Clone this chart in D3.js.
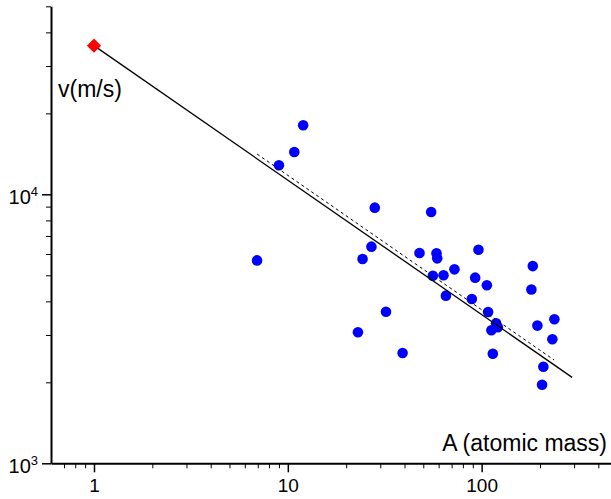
<!DOCTYPE html>
<html>
<head>
<meta charset="utf-8">
<script src="https://cdn.jsdelivr.net/npm/d3@7"></script>
<style>
  html, body { margin: 0; padding: 0; background: #fff; }
  svg { display: block; font-family: "Liberation Sans", Arial, sans-serif; }
  .axis path, .axis line { stroke: #000; }
</style>
</head>
<body>
<svg id="chart" width="611" height="499"></svg>
<script>
// atomic mass A vs sound speed v (m/s)
const massA = [12.0, 10.8, 9.0, 6.94, 28.1, 54.9, 27.0, 24.3, 47.8, 58.5, 59.0, 56.0,
  32.1, 23.0, 39.1, 96.3, 183.6, 72.4, 63.6, 92.6, 106.4, 180.6, 65.4, 89.0, 108.0,
  118.8, 121.2, 112.3, 114.2, 193.9, 237.3, 231.7, 208.2, 205.0];
const speedV = [18050, 14370, 12820, 5680, 8920, 8590, 6390, 5750, 6050, 6035, 5780, 4980,
  3660, 3070, 2570, 6220, 5410, 5260, 5000, 4900, 4590, 4430, 4200, 4080, 3650,
  3315, 3205, 3125, 2555, 3250, 3430, 2890, 2285, 1960];

// reference point (hydrogen) and the two power-law lines
const refPoint = { A: 1, v: 35700 };
const fitSolid = [{ A: 1, v: 35700 }, { A: 293, v: 2086 }];
const fitDashed = [{ A: 6.94, v: 14120 }, { A: 236.5, v: 2421 }];

const xMajor = [1, 10, 100];
const xMinor = [0.7, 0.8, 0.9, 2, 3, 4, 5, 6, 7, 8, 9, 20, 30, 40, 50, 60, 70, 80, 90, 200, 300, 400];
const yMajor = [1000, 10000];
const yMinor = [2000, 3000, 4000, 5000, 6000, 7000, 8000, 9000, 20000, 30000, 40000, 50000];

const svg = d3.select("#chart");

const x = d3.scaleLog().domain([0.6, 465]).range([51, 611]);
const y = d3.scaleLog().domain([1000, 50000]).range([463.3, 6.3]);

const points = massA.map((a, i) => ({ A: a, v: speedV[i] }));

// dots
svg.append("g")
  .selectAll("circle")
  .data(points)
  .enter()
  .append("circle")
  .attr("cx", d => x(d.A))
  .attr("cy", d => y(d.v))
  .attr("r", 5.3)
  .attr("fill", "#0000ff");

const line = d3.line().x(d => x(d.A)).y(d => y(d.v));

svg.append("path")
  .datum(fitSolid)
  .attr("d", line)
  .attr("fill", "none")
  .attr("stroke", "#000")
  .attr("stroke-width", 1.3);

svg.append("path")
  .datum(fitDashed)
  .attr("d", line)
  .attr("fill", "none")
  .attr("stroke", "#000")
  .attr("stroke-width", 1)
  .attr("stroke-dasharray", "3,3");

// red diamond
svg.append("rect")
  .attr("x", -5)
  .attr("y", -5)
  .attr("width", 10)
  .attr("height", 10)
  .attr("fill", "#ff0000")
  .attr("transform", `translate(${x(refPoint.A)},${y(refPoint.v)}) rotate(45)`);

// x axis
const xg = svg.append("g").attr("class", "axis").attr("transform", "translate(0,463.3)");
xg.append("g")
  .call(d3.axisBottom(x).tickValues(xMinor).tickSize(5).tickSizeOuter(0).tickFormat(""))
  .call(g => g.select(".domain").remove());
xg.append("g")
  .call(d3.axisBottom(x).tickValues(xMajor).tickSize(9).tickSizeOuter(0).tickPadding(6)
    .tickFormat(d3.format("d")))
  .call(g => g.select(".domain").attr("stroke-width", 2))
  .call(g => g.selectAll(".tick line").attr("stroke-width", 1.5))
  .call(g => g.selectAll(".tick text")
    .attr("fill", "#000")
    .style("font-size", "19px")
    .style("font-family", "'Liberation Sans', Arial, sans-serif"));

// y axis
const yg = svg.append("g").attr("class", "axis").attr("transform", "translate(51,0)");
yg.append("g")
  .call(d3.axisLeft(y).tickValues(yMinor).tickSize(5).tickSizeOuter(0).tickFormat(""))
  .call(g => g.select(".domain").remove());
yg.append("g")
  .call(d3.axisLeft(y).tickValues(yMajor).tickSize(9).tickSizeOuter(0).tickPadding(4)
    .tickFormat(""))
  .call(g => g.select(".domain").attr("stroke-width", 2))
  .call(g => g.selectAll(".tick line").attr("stroke-width", 1.5))
  .call(g => g.selectAll(".tick text")
    .attr("fill", "#000")
    .style("font-size", "20px")
    .style("font-family", "'Liberation Sans', Arial, sans-serif")
    .attr("dy", "0.45em")
    .each(function(d) {
      const t = d3.select(this);
      t.append("tspan").text("10");
      t.append("tspan").attr("dy", -8).style("font-size", "13px").text(Math.round(Math.log10(d)));
    }));

// axis titles
svg.append("text")
  .attr("x", 58)
  .attr("y", 96.5)
  .style("font-size", "23px")
  .attr("fill", "#000")
  .text("v(m/s)");

svg.append("text")
  .attr("x", 607)
  .attr("y", 451)
  .attr("text-anchor", "end")
  .style("font-size", "23px")
  .attr("fill", "#000")
  .text("A (atomic mass)");
</script>
</body>
</html>
